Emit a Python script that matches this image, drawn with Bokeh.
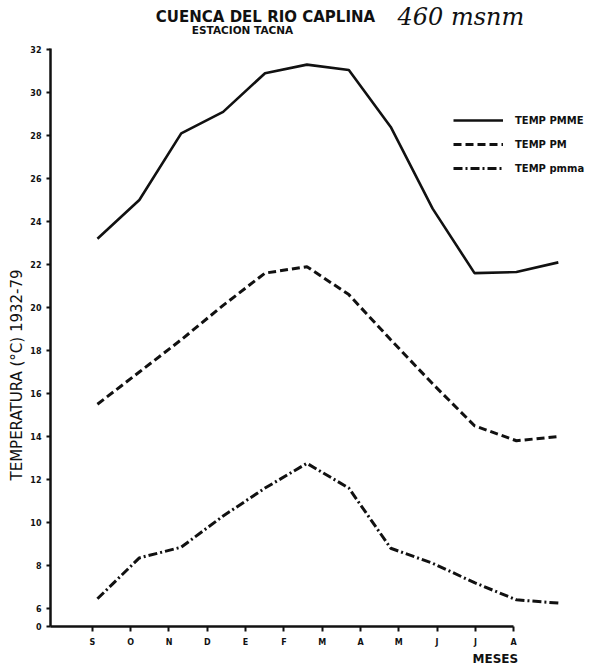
from bokeh.plotting import figure
from bokeh.models import Range1d, FixedTicker, Label, Legend, Title
from bokeh.embed import file_html
from bokeh.resources import INLINE

# ---- data ----
months = ["S", "O", "N", "D", "E", "F", "M", "A", "M", "J", "J", "A"]
temp_pmme = [23.2, 25.0, 28.1, 29.1, 30.9, 31.3, 31.05, 28.4, 24.6, 21.6, 21.65, 22.1]
temp_pm = [15.5, 17.0, 18.5, 20.1, 21.6, 21.9, 20.6, 18.5, 16.45, 14.5, 13.8, 14.0]
temp_pmma = [6.45, 8.35, 8.85, 10.3, 11.6, 12.75, 11.6, 8.8, 8.1, 7.2, 6.4, 6.25]
y_ticks = [6, 8, 10, 12, 14, 16, 18, 20, 22, 24, 26, 28, 30, 32]
series_names = ["TEMP PMME", "TEMP PM", "TEMP pmma"]

x_idx = list(range(len(months)))

# ---- layout constants (style) ----
PX_X = 41.9        # pixels per month step
PX_Y = 21.5        # pixels per degree
Y0 = 5.16          # axis origin (labelled "0" in the original drawing)
Y_AXIS_TOP = 32.05
X_START = -1.12
X_END = X_START + 563 / PX_X
Y_END = Y_AXIS_TOP + 48 / PX_Y
TICK_SCALE, TICK_OFFSET = 0.914, -0.12   # hand-drawn axis ticks are narrower than the plotted points

p = figure(width=613, height=667, output_backend="svg", toolbar_location=None,
           x_range=Range1d(X_START, X_END), y_range=Range1d(Y0, Y_END),
           min_border_left=50, min_border_right=0, min_border_top=0, min_border_bottom=41)
p.outline_line_color = None
p.xgrid.visible = False
p.ygrid.visible = False
p.background_fill_color = "white"
p.border_fill_color = "white"

ink = "#111111"
r1 = p.line(x_idx, temp_pmme, line_color=ink, line_width=2.6)
r2 = p.line(x_idx, temp_pm, line_color=ink, line_width=3, line_dash="8 4")
r3 = p.line(x_idx, temp_pmma, line_color=ink, line_width=3, line_dash="9 3 2 3")

legend = Legend(items=[(series_names[0], [r1]), (series_names[1], [r2]), (series_names[2], [r3])],
                location=(403, 450), glyph_width=50, glyph_height=16, label_height=16,
                spacing=8, padding=0, margin=0, label_standoff=12,
                background_fill_alpha=0, border_line_alpha=0,
                label_text_font="DejaVu Sans", label_text_font_style="bold",
                label_text_font_size="10px", label_text_color=ink)
p.add_layout(legend, "center")

# x axis
tick_pos = [TICK_SCALE * i + TICK_OFFSET for i in x_idx]
xa = p.xaxis[0]
xa.ticker = FixedTicker(ticks=tick_pos)
xa.major_label_overrides = {t: m for t, m in zip(tick_pos, months)}
xa.bounds = (X_START, tick_pos[-1])
xa.axis_line_width = 2.5
xa.axis_line_color = ink
xa.major_tick_line_width = 2
xa.major_tick_line_color = ink
xa.major_tick_in = 0
xa.major_tick_out = 5
xa.minor_tick_line_color = None
xa.major_label_standoff = 6
xa.major_label_text_font = "DejaVu Sans"
xa.major_label_text_font_style = "bold"
xa.major_label_text_font_size = "8px"
xa.major_label_text_color = ink

# y axis
ya = p.yaxis[0]
ya.ticker = FixedTicker(ticks=[Y0] + y_ticks)
ya.major_label_overrides = {Y0: "0"}
ya.bounds = (Y0, Y_AXIS_TOP)
ya.axis_line_width = 2.5
ya.axis_line_color = ink
ya.major_tick_line_width = 2
ya.major_tick_line_color = ink
ya.major_tick_in = 0
ya.major_tick_out = 4
ya.minor_tick_line_color = None
ya.major_label_standoff = 5
ya.major_label_text_font = "DejaVu Sans"
ya.major_label_text_font_style = "bold"
ya.major_label_text_font_size = "8px"
ya.major_label_text_color = ink

# vertical axis title, placed lower than the frame centre as in the original
p.add_layout(Title(text="TEMPERATURA (°C) 1932-79", align="left", offset=146, standoff=4,
                   text_font="DejaVu Sans", text_font_style="normal", text_font_size="15px",
                   text_color=ink), "left")

# "MESES" under the last tick
p.add_layout(Title(text="MESES", align="left", offset=422, standoff=0,
                   text_font="DejaVu Sans", text_font_style="bold", text_font_size="12px",
                   text_color=ink), "below")

# helpers to place texts at page pixels (style only)
def dx(px):
    return X_START + (px - 50) / PX_X

def dy(py):
    return Y_END - py / PX_Y

p.add_layout(Label(x=dx(265), y=dy(17), text="CUENCA DEL RIO CAPLINA", text_font="DejaVu Sans",
                   text_font_size="15px", text_font_style="bold", text_align="center",
                   text_baseline="middle", text_color=ink))
p.add_layout(Label(x=dx(242), y=dy(30), text="ESTACION TACNA", text_font="DejaVu Sans",
                   text_font_size="10.5px", text_font_style="bold", text_align="center",
                   text_baseline="middle", text_color=ink))
p.add_layout(Label(x=dx(397), y=dy(17), text="460 msnm", text_font="DejaVu Serif",
                   text_font_size="24px", text_font_style="italic", text_align="left",
                   text_baseline="middle", text_color=ink))

open("out.html", "w").write(file_html(p, INLINE))
